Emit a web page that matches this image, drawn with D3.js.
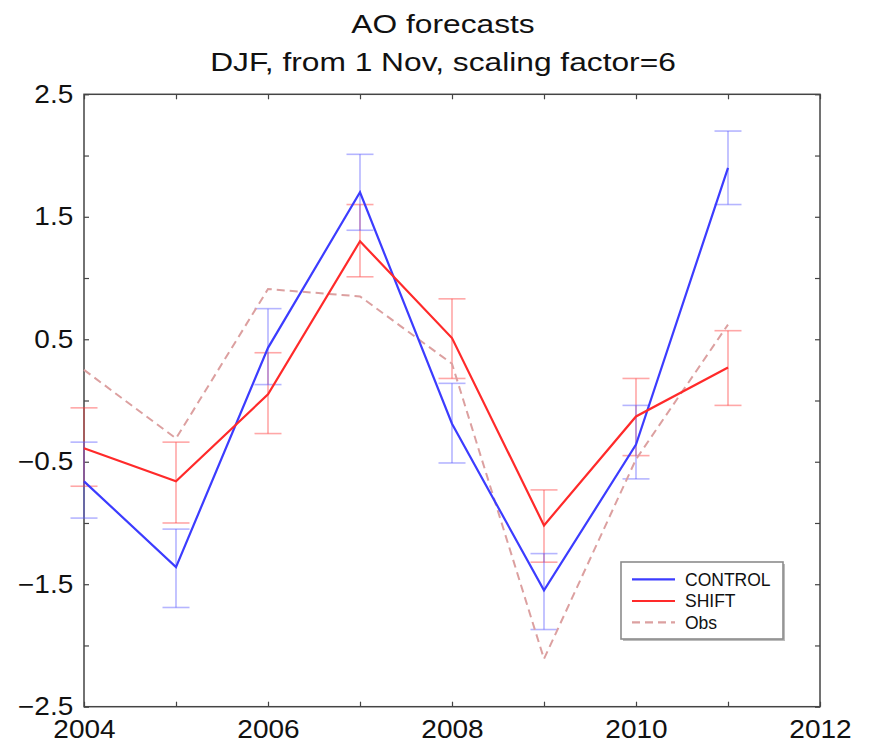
<!DOCTYPE html>
<html>
<head>
<meta charset="utf-8">
<script src="https://cdn.jsdelivr.net/npm/d3@7"></script>
<style>
  html, body { margin: 0; padding: 0; background: #fff; }
  svg { display: block; font-family: "Liberation Sans", Arial, Helvetica, sans-serif; }
</style>
</head>
<body>
<svg id="chart" width="869" height="743"></svg>
<script>
// ---- data ----
const years      = [2004, 2005, 2006, 2007, 2008, 2009, 2010, 2011];
const control    = [-0.66, -1.36, 0.43, 1.70, -0.19, -1.55, -0.36, 1.90];
const controlLo  = [-0.96, -1.69, 0.13, 1.39, -0.51, -1.87, -0.64, 1.60];
const controlHi  = [-0.34, -1.05, 0.75, 2.01, 0.14, -1.25, -0.04, 2.20];
const shift      = [-0.39, -0.66, 0.05, 1.30, 0.51, -1.02, -0.13, 0.27];
const shiftLo    = [-0.70, -1.00, -0.27, 1.01, 0.18, -1.32, -0.45, -0.04];
const shiftHi    = [-0.06, -0.34, 0.39, 1.60, 0.83, -0.73, 0.18, 0.57];
const obs        = [0.25, -0.31, 0.91, 0.85, 0.30, -2.11, -0.48, 0.62];

const xTicks      = [2004, 2005, 2006, 2007, 2008, 2009, 2010, 2011, 2012];
const xTickLabels = {2004: "2004", 2006: "2006", 2008: "2008", 2010: "2010", 2012: "2012"};
const yTicks      = [-2.5, -2, -1.5, -1, -0.5, 0, 0.5, 1, 1.5, 2, 2.5];
const yTickLabels = {"-2.5": "\u22122.5", "-1.5": "\u22121.5", "-0.5": "\u22120.5", "0.5": "0.5", "1.5": "1.5", "2.5": "2.5"};
const titleLines  = ["AO forecasts", "DJF, from 1 Nov, scaling factor=6"];
const legendItems = [
  {name: "CONTROL", key: "control"},
  {name: "SHIFT", key: "shift"},
  {name: "Obs", key: "obs"}
];

// ---- styles ----
const colors = {
  control: "#3c3cff", shift: "#ff2a2a", obs: "#dca0a0",
  controlErr: "rgba(90,90,255,0.45)", shiftErr: "rgba(255,60,60,0.45)"
};

const svg = d3.select("#chart");
const L = 84, R = 820, T = 94.3, B = 706.7;

const x = d3.scaleLinear().domain([2004, 2012]).range([L, R]);
const y = d3.scaleLinear().domain([-2.5, 2.5]).range([B, T]);

// ---- title ----
const tg = [33, 70.5];
titleLines.forEach((t, i) => {
  svg.append("g").attr("transform", `translate(443,${tg[i]}) scale(1.22,1)`)
    .append("text").attr("text-anchor", "middle").attr("font-size", 26).attr("fill", "#111").text(t);
});

// ---- axes (ticks inward, on all four sides) ----
const axColor = "#444";
function styleAxis(g) {
  g.select(".domain").remove();
  g.selectAll(".tick line").attr("stroke", axColor).attr("stroke-width", 1.2);
  g.selectAll("text").attr("fill", "#111").attr("font-size", 25);
}
const gLeft = svg.append("g").attr("transform", `translate(${L},0)`)
  .call(d3.axisLeft(y).tickValues(yTicks).tickSize(-5).tickPadding(0)
    .tickFormat(d => yTickLabels[String(d)] || ""));
styleAxis(gLeft);
gLeft.selectAll("text").attr("x", -9.6).attr("transform", "scale(1.12,1)");

svg.append("g").attr("transform", `translate(${R},0)`)
  .call(d3.axisRight(y).tickValues(yTicks).tickSize(-5).tickFormat(""))
  .call(styleAxis);

const gBottom = svg.append("g").attr("transform", `translate(0,${B})`)
  .call(d3.axisBottom(x).tickValues(xTicks).tickSize(-5).tickFormat(d => xTickLabels[d] || ""));
styleAxis(gBottom);
gBottom.selectAll("text").attr("y", 31).attr("dy", 0).attr("transform", "scale(1.12,1)");

svg.append("g").attr("transform", `translate(0,${T})`)
  .call(d3.axisTop(x).tickValues(xTicks).tickSize(-5).tickFormat(""))
  .call(styleAxis);

// frame
svg.append("rect").attr("x", L).attr("y", T).attr("width", R - L).attr("height", B - T)
  .attr("fill", "none").attr("stroke", axColor).attr("stroke-width", 1.5);

// ---- error bars ----
const cap = 13.5;
function errorBars(lo, hi, color) {
  const g = svg.append("g").attr("stroke", color).attr("stroke-width", 1.6).attr("fill", "none");
  years.forEach((yr, i) => {
    const cx = x(yr);
    g.append("line").attr("x1", cx).attr("x2", cx).attr("y1", y(lo[i])).attr("y2", y(hi[i]));
    g.append("line").attr("x1", cx - cap).attr("x2", cx + cap).attr("y1", y(lo[i])).attr("y2", y(lo[i]));
    g.append("line").attr("x1", cx - cap).attr("x2", cx + cap).attr("y1", y(hi[i])).attr("y2", y(hi[i]));
  });
}
errorBars(shiftLo, shiftHi, colors.shiftErr);
errorBars(controlLo, controlHi, colors.controlErr);

// ---- lines ----
const line = d3.line().x((d, i) => x(years[i])).y(d => y(d));
svg.append("path").datum(obs).attr("d", line).attr("fill", "none")
  .attr("stroke", colors.obs).attr("stroke-width", 2).attr("stroke-dasharray", "8,5");
svg.append("path").datum(control).attr("d", line).attr("fill", "none")
  .attr("stroke", colors.control).attr("stroke-width", 2.2);
svg.append("path").datum(shift).attr("d", line).attr("fill", "none")
  .attr("stroke", colors.shift).attr("stroke-width", 2.2);

// ---- legend ----
const lg = svg.append("g");
lg.append("rect").attr("x", 623).attr("y", 564).attr("width", 162).attr("height", 77)
  .attr("fill", "#bbb");
lg.append("rect").attr("x", 621).attr("y", 562).attr("width", 162).attr("height", 77)
  .attr("fill", "#fff").attr("stroke", "#8c8c8c").attr("stroke-width", 1.6);
const rowY = [579.3, 601, 622.3];
legendItems.forEach((it, i) => {
  lg.append("line").attr("x1", 632).attr("x2", 675).attr("y1", rowY[i]).attr("y2", rowY[i])
    .attr("stroke", colors[it.key]).attr("stroke-width", 2.2)
    .attr("stroke-dasharray", it.key === "obs" ? "8,5" : null);
  lg.append("text").attr("x", 685).attr("y", rowY[i] + 6.3).attr("font-size", 17.5)
    .attr("fill", "#111").text(it.name);
});
</script>
</body>
</html>
